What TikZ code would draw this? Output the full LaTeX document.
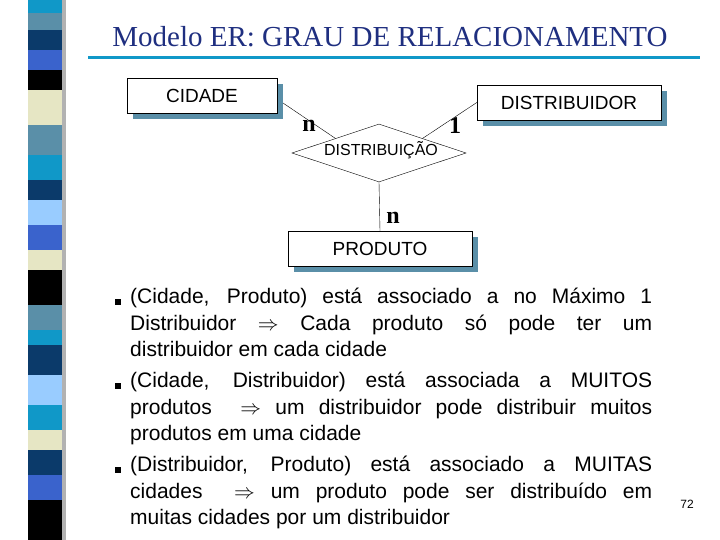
\documentclass[tikz,border=0pt]{standalone}
\usepackage{fontspec}
\setmainfont{Liberation Serif}
\setsansfont{Liberation Sans}
\usetikzlibrary{positioning, shapes.geometric, calc}
\definecolor{navyb}{HTML}{0B3A6A}
\definecolor{royalb}{HTML}{3A63CC}
\definecolor{steelb}{HTML}{5A8FA8}
\definecolor{cyanb}{HTML}{1098C8}
\definecolor{lightb}{HTML}{99CCFF}
\definecolor{beigeb}{HTML}{E6E6C4}
\definecolor{titleb}{HTML}{1F2F80}
\definecolor{shadowb}{HTML}{5A8FA8}

\begin{document}
\begin{tikzpicture}[x=1pt, y=-1pt]
            % Define node styles
            \tikzstyle{entity} = [rectangle, draw, fill=white, minimum width=150pt, minimum height=35pt, font=\sffamily\fontsize{19}{21}\selectfont]
            \tikzstyle{shadow} = [fill=shadowb]
            \tikzstyle{relation} = [diamond, draw, fill=white, aspect=3, minimum width=174pt, minimum height=58pt, inner sep=0pt]
            \tikzstyle{card} = [font=\bfseries\fontsize{24}{26}\selectfont]
            \tikzstyle{item} = [anchor=north west, text width=522pt, align=justify, inner sep=0pt, font=\sffamily\fontsize{21}{26.5}\selectfont]
            \tikzstyle{bullet} = [fill=black, minimum size=6pt, inner sep=0pt]

            \useasboundingbox (0,0) rectangle (720,540);

            % Striped strip on the left
            \fill[gray!60] (58,0) rectangle (66,540);
            \foreach \ya/\yb/\col in {0/13/cyanb, 13/30/steelb, 30/50/navyb, 50/70/royalb, 70/90/black, 90/125/beigeb, 125/155/steelb, 155/180/cyanb, 180/200/navyb, 200/225/lightb, 225/250/royalb, 250/270/beigeb, 270/305/black, 305/330/steelb, 330/345/cyanb, 345/375/navyb, 375/405/lightb, 405/430/cyanb, 430/450/beigeb, 450/475/navyb, 475/500/royalb, 500/540/black}
                \fill[\col] (28,\ya) rectangle (62,\yb);

            % Title and rule
            \node[font=\fontsize{29}{31}\selectfont, text=titleb] (title) at (390,37) {Modelo ER: GRAU DE RELACIONAMENTO};
            \draw[cyanb, line width=3pt] (88,58) -- (700,58);

            % Shadows of the entity boxes
            \fill[shadow] (133,84) rectangle (283,119);
            \fill[shadow] (483,91) rectangle (667,126);
            \fill[shadow] (294,237) rectangle (478,272);

            % Entities and relationship
            \node[entity] (cidade) at (202,95.5) {CIDADE};
            \node[entity, minimum width=184pt] (distribuidor) at (569,102.5) {DISTRIBUIDOR};
            \node[entity, minimum width=184pt] (produto) at (380,248.5) {PRODUTO};
            \node[relation] (rel) at (379,153) {};
            \node[font=\sffamily\fontsize{16}{18}\selectfont] (relname) at (381,150) {DISTRIBUIÇÃO};

            % Connectors
            \draw (283,103) -- (rel.north west);
            \draw (distribuidor.west) -- (rel.north east);
            \draw (rel.south) -- (produto.north);

            % Cardinalities
            \node[card] (c1) at (309,126) {n};
            \node[card] (c2) at (455,126) {1};
            \node[card] (c3) at (393,218) {n};

            % Bullet list
            \node[bullet] (b1) at (118,302) {};
            \node[bullet] (b2) at (118,386) {};
            \node[bullet] (b3) at (118,470) {};
            \node[item] (t1) at (130,288) {(Cidade, Produto) está associado a no Máximo 1\linebreak Distribuidor $\Rightarrow$ Cada produto só pode ter um\linebreak distribuidor em cada cidade};
            \node[item] (t2) at (130,372) {(Cidade, Distribuidor) está associada a MUITOS\linebreak produtos \ $\Rightarrow$ um distribuidor pode distribuir muitos\linebreak produtos em uma cidade};
            \node[item] (t3) at (130,456) {(Distribuidor, Produto) está associado a MUITAS\linebreak cidades \ $\Rightarrow$ um produto pode ser distribuído em\linebreak muitas cidades por um distribuidor};

            % Page number
            \node[font=\sffamily\fontsize{12}{14}\selectfont] (page) at (687,504) {72};
        \end{tikzpicture}
\end{document}
